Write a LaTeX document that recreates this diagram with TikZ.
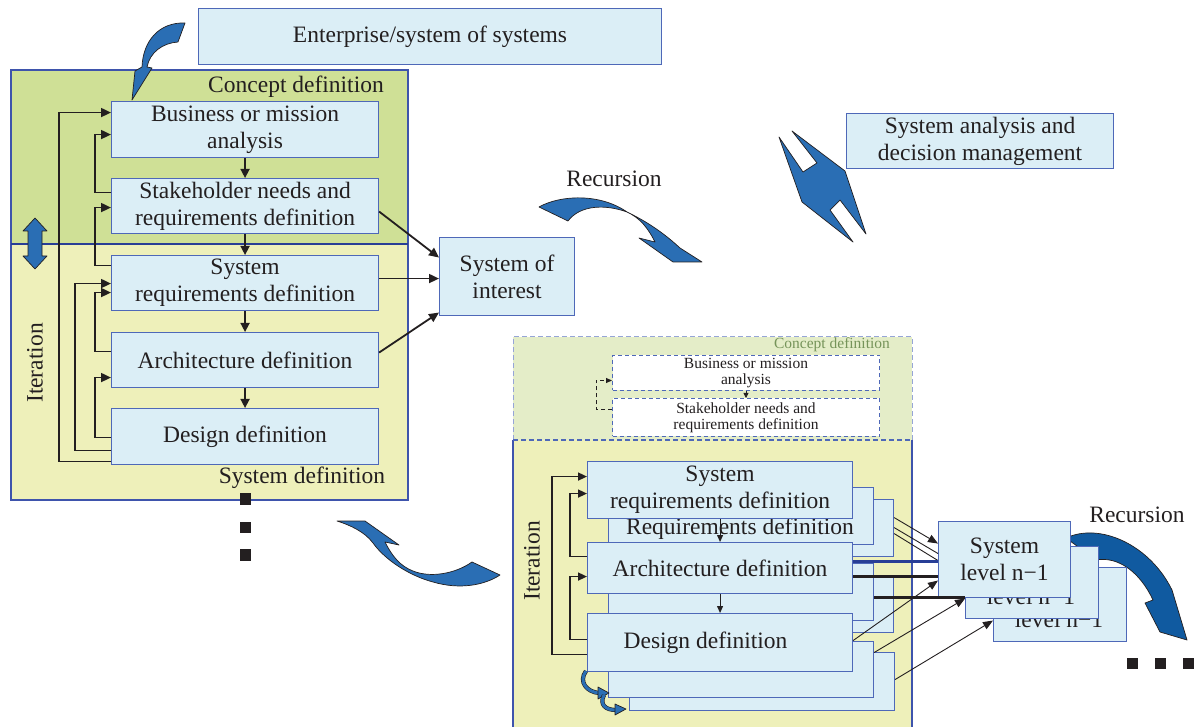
\documentclass[tikz,border=0pt]{standalone}
\usepackage{fontspec}
\setmainfont{Liberation Serif}
\usetikzlibrary{arrows.meta}

\definecolor{ink}{RGB}{35,31,32}
\definecolor{boxfill}{RGB}{219,238,246}
\definecolor{boxline}{RGB}{78,104,184}
\definecolor{frameblue}{RGB}{62,84,172}
\definecolor{divblue}{RGB}{40,62,150}
\definecolor{conceptgreen}{RGB}{207,224,150}
\definecolor{paleconcept}{RGB}{228,237,200}
\definecolor{sysyellow}{RGB}{238,240,186}
\definecolor{ribbon}{RGB}{42,110,180}
\definecolor{ribbondark}{RGB}{16,90,160}
\definecolor{dashframe}{RGB}{150,165,215}
\definecolor{olivetext}{RGB}{118,148,90}

\newcommand{\fsBig}{\fontsize{23.5}{27}\selectfont}
\newcommand{\fsSmall}{\fontsize{15.5}{16}\selectfont}

\tikzset{
  box/.style={draw=boxline, fill=boxfill, line width=1.1pt, inner sep=0pt,
    align=center, text=ink, font=\fsBig, anchor=north west},
  dbox/.style={draw=boxline, fill=white, dash pattern=on 4pt off 3pt,
    line width=1pt, inner sep=0pt, align=center, text=ink, font=\fsSmall,
    anchor=north west},
  lbl/.style={text=ink, font=\fsBig, inner sep=0pt},
  fb/.style={draw=ink, line width=1.8pt, -{Triangle[length=10pt,width=9pt]}},
  fbs/.style={draw=ink, line width=1.6pt, -{Triangle[length=9pt,width=8pt]}},
  dnarr/.style={draw=ink, line width=1.6pt, -{Triangle[length=9pt,width=9pt]}},
  dnsmall/.style={draw=ink, line width=0.9pt, -{Triangle[length=7pt,width=6pt]}},
  lightline/.style={draw=ink, line width=0.9pt},
  lightarr/.style={lightline, -{Triangle[length=10pt,width=8pt]}},
  heavyline/.style={draw=ink, line width=2.6pt},
  blueshape/.style={fill=ribbon, draw=ink, line width=0.7pt, line join=round},
  frameline/.style={draw=frameblue, line width=1.1pt},
}

\begin{document}
\begin{tikzpicture}[x=1pt,y=-1pt]
\useasboundingbox (0,0) rectangle (1195,727);
\clip (0,0) rectangle (1195,727);

% ---------- top level: enterprise ----------
\node[box, minimum width=463pt, minimum height=56pt] (ent) at (198,8) {Enterprise/system of systems};

% ---------- left frame: concept + system definition ----------
\fill[conceptgreen] (11,70) rectangle (408,244);
\fill[sysyellow] (11,244) rectangle (408,500);
\draw[frameline] (11,70) rectangle (408,500);
\draw[divblue, line width=2.4pt] (11,244) -- (408,244);

\node[lbl] (cdef) at (296,87) {Concept definition};
\node[lbl] (sdef) at (302,478) {System definition};
\node[lbl, rotate=90] (iter) at (35,363) {Iteration};

% up/down block arrow across the divider
\filldraw[blueshape] (35,218) -- (47,231) -- (42,231) -- (42,256) -- (47,256)
  -- (35,269) -- (23,256) -- (28,256) -- (28,231) -- (23,231) -- cycle;

\node[box, minimum width=267pt, minimum height=56pt] (bma) at (111,101) {Business or mission\\analysis};
\node[box, minimum width=267pt, minimum height=55pt] (snr) at (111,178) {Stakeholder needs and\\requirements definition};
\node[box, minimum width=267pt, minimum height=55pt] (srd) at (111,255) {System\\requirements definition};
\node[box, minimum width=267pt, minimum height=55pt] (arc) at (111,332) {Architecture definition};
\node[box, minimum width=267pt, minimum height=56pt] (des) at (111,408) {Design definition};

\draw[dnarr] (bma.south) -- (snr.north);
\draw[dnarr] (snr.south) -- (srd.north);
\draw[dnarr] (srd.south) -- (arc.north);
\draw[dnarr] (arc.south) -- (des.north);

% iteration loops
\draw[fb] ([yshift=-25pt]des.west) -- ++(-52,0) |- ([yshift=17pt]bma.west);
\draw[fb] ([yshift=13.5pt]snr.west) -- ++(-16,0) |- ([yshift=-5pt]bma.west);
\draw[fb] ([yshift=17.5pt]srd.west) -- ++(-16,0) |- ([yshift=-1.5pt]snr.west);
\draw[fb] ([yshift=-14pt]des.west) -- ++(-36,0) |- ([yshift=-0.5pt]srd.west);
\draw[fb] ([yshift=8.5pt]arc.west) -- ++(-16,0) |- ([yshift=-9.5pt]srd.west);
\draw[fb] ([yshift=-1pt]des.west) -- ++(-16,0) |- ([yshift=-17.5pt]arc.west);

% system of interest
\node[box, minimum width=135pt, minimum height=78pt] (soi) at (439,237) {System of\\interest};
\draw[fb] ([yshift=-5.5pt]snr.east) -- ([yshift=19pt]soi.west);
\draw[fb] ([yshift=4.5pt]srd.east) -- ([yshift=-2pt]soi.west);
\draw[fb] ([yshift=7.5pt]arc.east) -- ([yshift=-36pt]soi.west);

% continuation marks
\fill[ink] (240,493) rectangle (251,505);
\fill[ink] (240,522) rectangle (251,533);
\fill[ink] (240,549) rectangle (251,561);

% curved arrow from the enterprise level
\filldraw[blueshape] (185,23) .. controls (160,22) and (143,40) .. (142,67)
  -- (135,71) -- (132,100) -- (152,68) -- (147,67)
  .. controls (150,52) and (163,43) .. (178,42) -- cycle;

% ---------- recursion arrow (top) ----------
\node[lbl] (rec1) at (614,179) {Recursion};
\filldraw[blueshape] (539,207) .. controls (560,195) and (600,193) .. (627,212)
  .. controls (652,224) and (668,237) .. (680,248) -- (702,262) -- (673,262)
  -- (639,238) -- (655,242) .. controls (648,228) and (640,218) .. (627,212)
  .. controls (605,204) and (580,205) .. (568,221) -- cycle;

% ---------- system analysis and decision management ----------
\node[box, minimum width=267pt, minimum height=55pt] (sadm) at (846,113) {System analysis and\\decision management};
\filldraw[blueshape] (779,137) -- (803,172) -- (817,163) -- (792,131) -- (845,171)
  -- (866,234) -- (840,200) -- (830,210) -- (853,242) -- (802,202) -- cycle;

% ---------- recursion arrow (middle) ----------
\filldraw[blueshape] (337,521) -- (365,521) -- (399,545) -- (385,542)
  .. controls (392,556) and (400,566) .. (413,571)
  .. controls (430,578) and (455,574) .. (472,562) -- (500,575)
  .. controls (485,585) and (460,590) .. (433,582)
  .. controls (410,576) and (385,560) .. (373,543)
  .. controls (365,532) and (350,525) .. (337,521) -- cycle;

% ---------- lower frame: next level down ----------
\fill[paleconcept] (513,337) rectangle (912,440);
\draw[dashframe, line width=1pt, dash pattern=on 5pt off 3pt] (513,440) -- (513,337) -- (912,337) -- (912,440);
\fill[sysyellow] (513,440) rectangle (912,735);
\draw[frameline] (513,735) -- (513,440);
\draw[frameline] (912,440) -- (912,735);
\draw[boxline, line width=1.1pt, dash pattern=on 5pt off 3pt] (513,440) -- (912,440);

\node[text=olivetext, font=\fsSmall, inner sep=0pt] (cdef2) at (832,345) {Concept definition};
\node[dbox, minimum width=267pt, minimum height=35pt] (bm2) at (612,355) {Business or mission\\analysis};
\node[dbox, minimum width=267pt, minimum height=38pt] (sn2) at (612,398) {Stakeholder needs and\\requirements definition};
\draw[ink, line width=0.8pt, -{Triangle[length=5pt,width=5pt]}] (bm2.south) -- (sn2.north);
\draw[ink, line width=0.9pt, dash pattern=on 4pt off 3pt, -{Triangle[length=6pt,width=5pt]}]
  ([yshift=8pt]sn2.west) -- ++(-16,0) |- ([yshift=-7.5pt]bm2.west);

\node[lbl, rotate=90] (iter2) at (532,561) {Iteration};

% third layer
\node[box, minimum width=264pt, minimum height=57pt] (sr3) at (629,499) {};
\node[box, minimum width=264pt, minimum height=55pt] (ar3) at (629,577) {};
\node[box, minimum width=265pt, minimum height=58pt] (de3) at (629,652) {};
% second layer
\node[box, minimum width=265pt, minimum height=57pt] (sr2) at (608,487) {};
\node[lbl] (rq2) at (740,529) {Requirements definition};
\node[box, minimum width=265pt, minimum height=57pt] (ar2) at (608,563) {};
\node[box, minimum width=265pt, minimum height=56pt] (de2) at (608,641) {};
% front layer
\node[box, minimum width=265pt, minimum height=57pt] (sr1) at (587,461) {System\\requirements definition};
\node[box, minimum width=265pt, minimum height=51pt] (ar1) at (587,542) {Architecture definition};
\node[box, minimum width=265pt, minimum height=58pt] (de1) at (587,613) {\hspace*{-29pt}Design definition};

\draw[dnsmall] (sr1.south) -- (ar1.north);
\draw[dnsmall] (ar1.south) -- (de1.north);

\draw[fbs] ([yshift=-12pt]de1.west) -- ++(-35,0) |- ([yshift=13.5pt]sr1.west);
\draw[fbs] ([yshift=11.5pt]ar1.west) -- ++(-17,0) |- ([yshift=-3.5pt]sr1.west);
\draw[fbs] ([yshift=3pt]de1.west) -- ++(-17,0) |- ([yshift=-8.5pt]ar1.west);

% small ribbon arrows under the stack
\draw[ink, double=ribbon, double distance=3pt, line width=0.6pt]
  (586,671) .. controls (578,682) and (587,692) .. (599,693);
\filldraw[blueshape] (598,687) -- (609,693) -- (598,699) -- cycle;
\draw[ink, double=ribbon, double distance=3pt, line width=0.6pt]
  (604,695) .. controls (599,705) and (606,710) .. (616,710);
\filldraw[blueshape] (615,704) -- (626,709) -- (615,715) -- cycle;

% ---------- system level n-1 ----------
\node[lbl] (rec2) at (1137,515) {Recursion};
\filldraw[blueshape, fill=ribbondark] (1066,538) .. controls (1100,522) and (1150,545) .. (1172,590)
  -- (1187,640) -- (1160,632) -- (1145,603) -- (1153,600)
  .. controls (1140,572) and (1118,556) .. (1096,560) -- cycle;

\node[box, minimum width=133pt, minimum height=74pt] (sl3) at (993,567) {};
\node[lbl] (sl3t) at (1059,619) {level n−1};
\node[box, minimum width=133pt, minimum height=72pt] (sl2) at (965,546) {};
\node[lbl] (sl2t) at (1031,596) {level n−1};
\node[box, minimum width=132pt, minimum height=76pt] (sl1) at (938,521) {System\\level n−1};

\draw[lightarr] ([yshift=10.5pt]sr3.east) -- ([yshift=16pt]sl1.west);
\draw[lightline] ([yshift=0.5pt]sr3.east) -- ([yshift=6pt]sl1.west);
\draw[lightline] ([yshift=-5.5pt]sr3.east) -- ([yshift=-1pt]sl1.west);
\draw[divblue, line width=2.4pt] ([yshift=6.5pt]ar1.east) -- ([yshift=-2pt]sl1.west);
\draw[heavyline] ([yshift=-8.5pt]ar1.east) -- ([yshift=-17pt]sl1.west);
\draw[lightarr] ([yshift=2pt]de1.east) -- ([yshift=-21pt]sl1.west);
\draw[heavyline] ([yshift=-5.5pt]ar2.east) -- ([yshift=-15pt]sl2.west);
\draw[lightarr] ([yshift=17pt]de2.east) -- ([yshift=-16pt]sl2.west);
\draw[lightarr] ([yshift=2pt]de3.east) -- ([yshift=-16pt]sl3.west);

\fill[ink] (1127,658) rectangle (1138,669);
\fill[ink] (1155,658) rectangle (1166,669);
\fill[ink] (1183,658) rectangle (1194,669);

\end{tikzpicture}
\end{document}
